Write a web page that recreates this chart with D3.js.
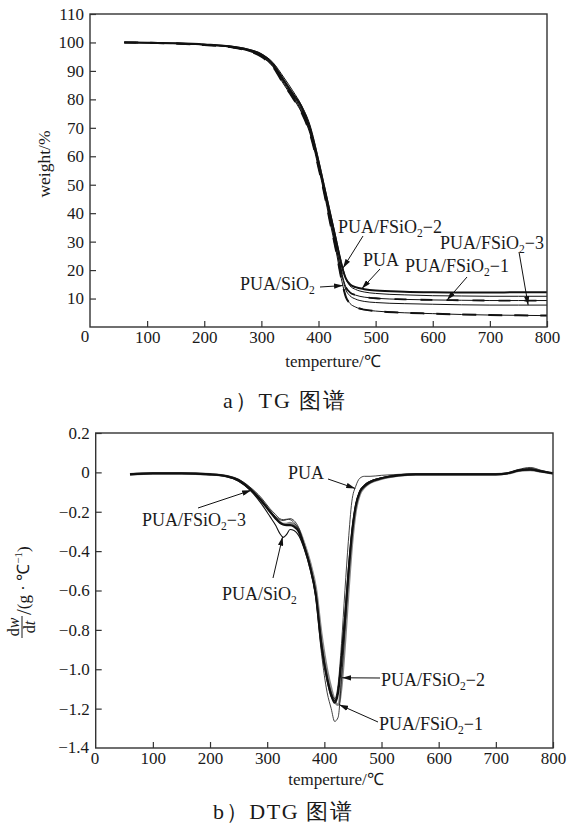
<!DOCTYPE html>
<html>
<head>
<meta charset="utf-8">
<script src="https://cdn.jsdelivr.net/npm/d3@7/dist/d3.min.js"></script>
<style>
  html, body { margin: 0; padding: 0; background: #fff; }
  svg { display: block; }
</style>
</head>
<body>
<svg id="fig" width="571" height="825"></svg>
<script>
// ---- TG data: residual weight (%) vs temperature (°C) ----
const tgTemps = [60,100,150,200,250,280,300,320,340,355,370,385,400,410,420,430,440,448,455,465,480,500,550,600,650,700,750,800];
const tgPUA   = [100,99.9,99.7,99.3,98.5,97.3,95.8,92.5,86.5,82.0,77.5,70.0,58.0,49.0,40.0,31.0,22.0,17.0,15.0,14.0,13.3,12.8,12.4,12.2,12.1,12.1,12.2,12.2];
const tgSiO2  = [100,99.9,99.6,99.1,98.2,96.8,95.0,91.5,85.0,80.5,75.5,68.0,56.0,47.0,37.0,27.5,17.0,10.5,8.3,7.0,6.1,5.6,5.0,4.7,4.4,4.2,4.1,4.0];
const tgF1    = [100,99.9,99.7,99.2,98.4,97.0,95.4,92.0,86.0,81.5,76.5,69.0,57.0,48.0,38.5,29.0,19.5,14.0,12.2,11.2,10.5,10.1,9.7,9.5,9.4,9.3,9.3,9.3];
const tgF2    = [100,99.9,99.7,99.3,98.6,97.5,96.0,93.0,87.5,83.0,78.0,71.0,59.0,50.0,41.0,32.0,23.0,17.0,14.5,13.2,12.3,11.8,11.3,11.0,10.9,10.8,10.8,10.8];
const tgF3    = [100,99.9,99.6,99.2,98.3,97.0,95.2,91.8,85.5,81.0,76.0,68.5,57.0,48.0,38.5,29.0,19.0,13.0,11.0,9.8,9.0,8.6,8.2,8.0,7.8,7.7,7.7,7.7];

// ---- DTG data: dw/dt (g·°C⁻¹) vs temperature (°C) ----
const dtgTemps = [60,100,150,200,230,250,270,290,305,315,322,328,334,340,347,355,365,375,385,395,405,412,418,424,430,436,442,448,455,462,470,480,500,530,560,600,650,700,720,740,760,780,800];
const dtgPUA  = [-0.008,-0.004,-0.004,-0.008,-0.018,-0.035,-0.075,-0.130,-0.185,-0.215,-0.235,-0.240,-0.238,-0.240,-0.255,-0.290,-0.370,-0.470,-0.610,-0.860,-1.040,-1.120,-1.150,-1.080,-0.870,-0.600,-0.350,-0.150,-0.070,-0.030,-0.020,-0.020,-0.015,-0.010,-0.008,-0.008,-0.008,-0.008,-0.003,0.015,0.025,0.010,-0.005];
const dtgSiO2 = [-0.010,-0.006,-0.006,-0.012,-0.022,-0.045,-0.090,-0.160,-0.225,-0.270,-0.310,-0.330,-0.315,-0.290,-0.295,-0.320,-0.390,-0.490,-0.630,-0.890,-1.060,-1.140,-1.160,-1.100,-0.930,-0.720,-0.490,-0.300,-0.160,-0.095,-0.065,-0.045,-0.028,-0.014,-0.010,-0.010,-0.010,-0.010,-0.005,0.008,0.012,0.004,-0.005];
const dtgF1   = [-0.010,-0.005,-0.005,-0.010,-0.020,-0.040,-0.080,-0.140,-0.195,-0.225,-0.240,-0.245,-0.240,-0.235,-0.245,-0.280,-0.370,-0.480,-0.640,-0.920,-1.120,-1.200,-1.265,-1.245,-1.050,-0.800,-0.520,-0.310,-0.165,-0.095,-0.065,-0.045,-0.028,-0.014,-0.010,-0.010,-0.010,-0.010,-0.005,0.012,0.020,0.006,-0.005];
const dtgF2   = [-0.010,-0.005,-0.005,-0.010,-0.020,-0.040,-0.082,-0.142,-0.198,-0.232,-0.252,-0.262,-0.262,-0.258,-0.265,-0.290,-0.365,-0.460,-0.590,-0.830,-1.010,-1.100,-1.160,-1.180,-1.080,-0.860,-0.600,-0.370,-0.190,-0.110,-0.075,-0.052,-0.032,-0.016,-0.010,-0.010,-0.010,-0.010,-0.006,0.008,0.012,0.004,-0.005];
const dtgF3   = [-0.010,-0.005,-0.005,-0.010,-0.020,-0.040,-0.085,-0.145,-0.200,-0.235,-0.255,-0.265,-0.268,-0.268,-0.275,-0.300,-0.380,-0.480,-0.620,-0.880,-1.050,-1.130,-1.170,-1.120,-0.950,-0.750,-0.520,-0.320,-0.170,-0.100,-0.070,-0.050,-0.030,-0.015,-0.010,-0.010,-0.010,-0.010,-0.005,0.010,0.015,0.005,-0.005];

// ---- tick labels ----
const xTicks = [100,200,300,400,500,600,700,800];
const tgYTicks = [10,20,30,40,50,60,70,80,90,100,110];
const dtgYTicks = [0.2,0,-0.2,-0.4,-0.6,-0.8,-1.0,-1.2];

const SERIF = "'Liberation Serif', 'Times New Roman', serif";
const INK = "#1a1a1a";
const svg = d3.select("#fig");
const fmtMinus = s => String(s).replace("-", "\u2212");

// text helper: every label carries its own font settings
function txt(parent, x, y, size, str) {
  const t = parent.append("text").attr("x", x).attr("y", y)
    .style("font-family", SERIF).style("font-size", size + "px").attr("fill", INK);
  if (str !== undefined) t.text(str);
  return t;
}

// arrowhead for annotation leaders
svg.append("defs").append("marker")
  .attr("id", "arrow").attr("viewBox", "0 0 10 6")
  .attr("refX", 10).attr("refY", 3)
  .attr("markerWidth", 9).attr("markerHeight", 5.5)
  .attr("markerUnits", "userSpaceOnUse").attr("orient", "auto")
  .append("path").attr("d", "M0,0 L10,3 L0,6 Z").attr("fill", "#111");

function valueAt(temps, vals, t) {
  const i = Math.max(1, Math.min(temps.length - 1, d3.bisectLeft(temps, t)));
  const t0 = temps[i - 1], t1 = temps[i];
  const k = (t - t0) / (t1 - t0);
  return vals[i - 1] + k * (vals[i] - vals[i - 1]);
}

function labelText(g, x, y, main, sub, tail) {
  const t = txt(g, x, y, 18);
  t.append("tspan").text(main);
  if (sub) {
    t.append("tspan").style("font-size", "11.5px").attr("dy", 4).text(sub);
    if (tail) t.append("tspan").attr("dy", -4).text(tail);
  }
}

function drawPanel(opt) {
  const g = svg.append("g");
  const x = d3.scaleLinear().domain([0, 800]).range(opt.xRange);
  const y = d3.scaleLinear().domain(opt.yDomain).range(opt.yRange);

  // curves
  const line = d3.line().x(d => x(d[0])).y(d => y(d[1])).curve(d3.curveMonotoneX);
  opt.series.forEach(s => {
    const pts = opt.temps.map((t, i) => [t, s.values[i]]);
    g.append("path").attr("d", line(pts)).attr("fill", "none")
      .attr("stroke", s.color || "#111").attr("stroke-width", s.width)
      .attr("stroke-linejoin", "round");
    if (s.dash) {
      g.append("path").attr("d", line(pts)).attr("fill", "none")
        .attr("stroke", "#111").attr("stroke-width", s.dashWidth)
        .attr("stroke-dasharray", s.dash);
    }
  });

  // axes with inward ticks
  const xAxis = d3.axisBottom(x).tickValues(xTicks).tickSizeInner(-6).tickSizeOuter(0).tickPadding(opt.xPad);
  const gx = g.append("g").attr("transform", `translate(0,${opt.yRange[0]})`).call(xAxis);
  const yAxis = d3.axisLeft(y).tickValues(opt.yTicks).tickSizeInner(-6).tickSizeOuter(0)
    .tickPadding(opt.yPad).tickFormat(opt.yFormat);
  const gy = g.append("g").attr("transform", `translate(${opt.xRange[0]},0)`).call(yAxis);
  [gx, gy].forEach(a => {
    a.attr("font-family", SERIF).attr("font-size", 17);
    a.select(".domain").remove();
    a.selectAll(".tick line").attr("stroke", "#333").attr("stroke-width", 1.2);
    a.selectAll(".tick text").style("font-family", SERIF).style("font-size", "17px").attr("fill", INK);
  });
  gx.selectAll(".tick text").attr("dy", "0.62em");

  // frame
  g.append("rect").attr("x", opt.xRange[0]).attr("y", opt.yRange[1])
    .attr("width", opt.xRange[1] - opt.xRange[0]).attr("height", opt.yRange[0] - opt.yRange[1])
    .attr("fill", "none").attr("stroke", "#333").attr("stroke-width", 1.4);

  // annotations
  opt.notes.forEach(n => {
    const s = opt.series.find(d => d.name === n.series);
    const tx = x(n.tipT), ty = y(valueAt(opt.temps, s.values, n.tipT));
    g.append("line").attr("x1", n.tail[0]).attr("y1", n.tail[1]).attr("x2", tx).attr("y2", ty)
      .attr("stroke", "#111").attr("stroke-width", 1).attr("marker-end", "url(#arrow)");
    labelText(g, n.at[0], n.at[1], n.main, n.sub, n.tailText);
  });
  return { g, x, y };
}

// ---- panel a: TG ----
drawPanel({
  xRange: [90, 547], yRange: [327, 14], yDomain: [0, 110],
  temps: tgTemps, yTicks: tgYTicks, xPad: 5, yPad: 6, yFormat: d => d,
  series: [
    { name: "PUA/SiO2", values: tgSiO2, width: 1, dash: "14,12", dashWidth: 2 },
    { name: "PUA/FSiO2-3", values: tgF3, width: 1 },
    { name: "PUA/FSiO2-1", values: tgF1, width: 1, dash: "12,14", dashWidth: 1.8 },
    { name: "PUA/FSiO2-2", values: tgF2, width: 1 },
    { name: "PUA", values: tgPUA, width: 2 }
  ],
  notes: [
    { series: "PUA/FSiO2-2", tipT: 443, tail: [363, 236], at: [338, 233], main: "PUA/FSiO", sub: "2", tailText: "\u22122" },
    { series: "PUA/FSiO2-3", tipT: 767, tail: [519, 252], at: [440, 249], main: "PUA/FSiO", sub: "2", tailText: "\u22123" },
    { series: "PUA", tipT: 476, tail: [380, 269], at: [363, 266], main: "PUA" },
    { series: "PUA/FSiO2-1", tipT: 625, tail: [467, 277], at: [405, 272], main: "PUA/FSiO", sub: "2", tailText: "\u22121" },
    { series: "PUA/SiO2", tipT: 443, tail: [320, 287], at: [240, 290], main: "PUA/SiO", sub: "2" }
  ]
});
txt(svg, 85, 342, 17, "0").attr("text-anchor", "middle");
txt(svg, 0, 0, 17.5, "weight/%").attr("transform", "translate(50,164) rotate(-90)").attr("text-anchor", "middle");
txt(svg, 333, 367, 17, "temperture/\u2103").attr("text-anchor", "middle");
txt(svg, 223, 408, 22, "a\uFF09TG \u56FE\u8C31").attr("textLength", 122).attr("lengthAdjust", "spacing");

// ---- panel b: DTG ----
drawPanel({
  xRange: [95.7, 553], yRange: [748, 433], yDomain: [-1.4, 0.2],
  temps: dtgTemps, yTicks: dtgYTicks, xPad: 5, yPad: 6,
  yFormat: d => d === 0 ? "0" : fmtMinus(d3.format(".1f")(d)),
  series: [
    { name: "PUA/FSiO2-2", values: dtgF2, width: 2.6, color: "#888" },
    { name: "PUA/FSiO2-3", values: dtgF3, width: 2.2 },
    { name: "PUA/SiO2", values: dtgSiO2, width: 1.1 },
    { name: "PUA/FSiO2-1", values: dtgF1, width: 0.8 },
    { name: "PUA", values: dtgPUA, width: 0.8 }
  ],
  notes: [
    { series: "PUA", tipT: 454, tail: [328, 479], at: [288, 479], main: "PUA" },
    { series: "PUA/FSiO2-3", tipT: 272, tail: [198, 508], at: [142, 526], main: "PUA/FSiO", sub: "2", tailText: "\u22123" },
    { series: "PUA/SiO2", tipT: 327, tail: [273, 578], at: [222, 600], main: "PUA/SiO", sub: "2" },
    { series: "PUA/FSiO2-2", tipT: 431, tail: [380, 678], at: [381, 686], main: "PUA/FSiO", sub: "2", tailText: "\u22122" },
    { series: "PUA/FSiO2-1", tipT: 426, tail: [378, 722], at: [379, 730], main: "PUA/FSiO", sub: "2", tailText: "\u22121" }
  ]
});
txt(svg, 95, 764, 17, "0").attr("text-anchor", "middle");
txt(svg, 89, 753, 17, "\u22121.4").attr("text-anchor", "end");
txt(svg, 336, 785, 17, "temperture/\u2103").attr("text-anchor", "middle");
txt(svg, 213, 819, 22, "b\uFF09DTG \u56FE\u8C31").attr("textLength", 139).attr("lengthAdjust", "spacing");

// rotated y label: dw/dt fraction followed by the unit
const yl = svg.append("g").attr("transform", "translate(23,627) rotate(-90)");
const num = txt(yl, 0, -4, 16).attr("text-anchor", "middle");
num.append("tspan").text("d"); num.append("tspan").style("font-style", "italic").text("w");
yl.append("line").attr("x1", -11).attr("x2", 11).attr("y1", -1).attr("y2", -1).attr("stroke", INK).attr("stroke-width", 1);
const den = txt(yl, 0, 12, 16).attr("text-anchor", "middle");
den.append("tspan").text("d"); den.append("tspan").style("font-style", "italic").text("t");
const unit = txt(yl, 12, 11, 17);
unit.append("tspan").style("font-size", "21px").attr("dy", -3).text("/");
unit.append("tspan").attr("dy", -2).text("(g \u00B7 \u2103");
unit.append("tspan").style("font-size", "11px").attr("dy", -7).text("\u22121");
unit.append("tspan").attr("dy", 7).text(")");
</script>
</body>
</html>
